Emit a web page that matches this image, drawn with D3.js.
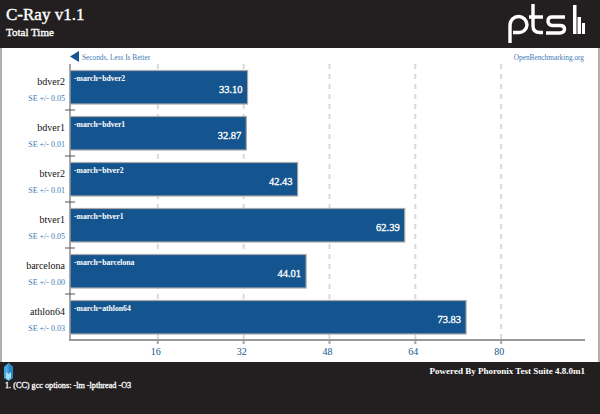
<!DOCTYPE html>
<html><head><meta charset="utf-8">
<script src="https://cdn.jsdelivr.net/npm/d3@7"></script>
<style>html,body{margin:0;padding:0;background:#fff;overflow:hidden}svg{display:block}text{font-family:"Liberation Serif",serif}</style>
</head><body><svg id="c" width="600" height="414"></svg>
<script>
const categories=["bdver2","bdver1","btver2","btver1","barcelona","athlon64"];
const values=[33.10,32.87,42.43,62.39,44.01,73.83];
const errors=["0.05","0.01","0.01","0.05","0.00","0.03"];
const flags=["-march=bdver2","-march=bdver1","-march=btver2","-march=btver1","-march=barcelona","-march=athlon64"];
const tickValues=[16,32,48,64,80];
const notes=["1. (CC) gcc options: -lm -lpthread -O3"];

const svg=d3.select("#c");
const dark="#231f20",blue="#15558f",link="#3f7ab5",grey="#a8a8a8";
const x=d3.scaleLinear().domain([0,96]).range([70,585]);
const y=d3.scaleBand().domain(categories).range([64,340]);
const heavy=(s,w)=>s.attr("stroke","#fff").attr("stroke-width",w);

// frame
svg.append("rect").attr("width",600).attr("height",48).attr("fill",dark);
svg.append("rect").attr("y",362).attr("width",600).attr("height",52).attr("fill",dark);
svg.append("rect").attr("x",0).attr("y",48).attr("width",2).attr("height",314).attr("fill","#b0b0b0");
svg.append("rect").attr("x",598).attr("y",48).attr("width",2).attr("height",314).attr("fill","#b0b0b0");

// titles
svg.append("text").attr("x",6).attr("y",20).attr("fill","#fff").attr("font-size",17).call(heavy,0.4).text("C-Ray v1.1");
svg.append("text").attr("x",6).attr("y",36).attr("fill","#fff").attr("font-size",11).call(heavy,0.35).text("Total Time");

// logo
const logo=svg.append("g").attr("fill","none").attr("stroke","#fff").attr("stroke-width",3.4);
logo.append("path").attr("d","M510 43V25a8.500 8.500 0 0 1 17 0v0a8 8 0 0 1-8.500 7.500H513");
logo.append("path").attr("d","M533 4V26q0 6.500 7 6.500h3M529 17h14");
logo.append("path").attr("d","M565 17h-13q-4 0-4 4t4 4.500h8q4.500 0 4.500 3.500t-4.500 4h-14");
[[573,5,29,3.500],[577.500,17,17,3.500],[582,23,11,3]].forEach(d=>svg.append("rect").attr("x",d[0]).attr("y",d[1]).attr("width",d[3]).attr("height",d[2]).attr("fill","#fff"));

// axis caption
svg.append("path").attr("d","M70 56.500L79 51V62Z").attr("fill",blue);
svg.append("text").attr("x",82).attr("y",59.500).attr("fill",link).attr("font-size",7.300).text("Seconds, Less Is Better");
svg.append("text").attr("x",584).attr("y",59.500).attr("text-anchor","end").attr("fill",link).attr("font-size",7.300).text("OpenBenchmarking.org");

// grid lines
const grid=svg.append("g");
tickValues.forEach(t=>{
  const gx=x(t)+2;
  grid.append("line").attr("x1",gx).attr("x2",gx).attr("y1",64).attr("y2",340)
    .attr("stroke","#d9d9d9").attr("stroke-width",2).attr("stroke-dasharray","5,5");
  grid.append("line").attr("x1",gx).attr("x2",gx).attr("y1",340).attr("y2",344)
    .attr("stroke",grey).attr("stroke-width",2);
  svg.append("text").attr("x",x(t)).attr("y",355).attr("text-anchor","middle").attr("fill",blue).attr("font-size",10).text(t);
});

// axes
svg.append("line").attr("x1",70).attr("x2",70).attr("y1",64).attr("y2",340).attr("stroke",grey).attr("stroke-width",2);
svg.append("line").attr("x1",69).attr("x2",585).attr("y1",340).attr("y2",340).attr("stroke","#999").attr("stroke-width",2);
categories.slice(1).forEach(c=>{
  svg.append("line").attr("x1",65).attr("x2",75).attr("y1",y(c)).attr("y2",y(c)).attr("stroke","#555").attr("stroke-width",1);
});

// bars
const row=svg.selectAll("g.row").data(categories).join("g").attr("class","row");
row.append("rect").attr("x",x(0)).attr("y",c=>y(c)+6.500).attr("height",33.500)
  .attr("width",(c,i)=>x(values[i])-x(0)).attr("fill",blue).attr("stroke",grey).attr("stroke-width",1.2);
row.append("text").attr("x",x(0)+4).attr("y",c=>y(c)+17).attr("fill","#fff").attr("font-size",7.700).attr("font-weight","bold").text((c,i)=>flags[i]);
row.append("text").attr("x",(c,i)=>x(values[i])-5).attr("y",c=>y(c)+29).attr("text-anchor","end").attr("fill","#fff").attr("font-size",10.500).call(heavy,0.3).text((c,i)=>values[i].toFixed(2));
row.append("text").attr("x",65).attr("y",c=>y(c)+21).attr("text-anchor","end").attr("fill","#111").attr("font-size",10).text(c=>c);
row.append("text").attr("x",65).attr("y",c=>y(c)+37).attr("text-anchor","end").attr("fill",link).attr("font-size",8).text((c,i)=>"SE +/- "+errors[i]);

// footer
svg.append("path").attr("d","M8.500 363L13 367V378L8.500 381L4 378V367Z").attr("fill","#4aa6e0");
svg.append("path").attr("d","M8.500 363L13 367V378L8.500 381Z").attr("fill","#2a86c4");
svg.append("path").attr("d","M6 372L8.500 374L11 372V378L8.500 380L6 378Z").attr("fill","#a8def2");
svg.append("text").attr("x",585).attr("y",374).attr("text-anchor","end").attr("fill","#fff").attr("font-size",9).attr("font-weight","bold").text("Powered By Phoronix Test Suite 4.8.0m1");
svg.append("text").attr("x",5).attr("y",388).attr("fill","#fff").attr("font-size",8.200).call(heavy,0.3).text(notes[0]);
</script></body></html>
